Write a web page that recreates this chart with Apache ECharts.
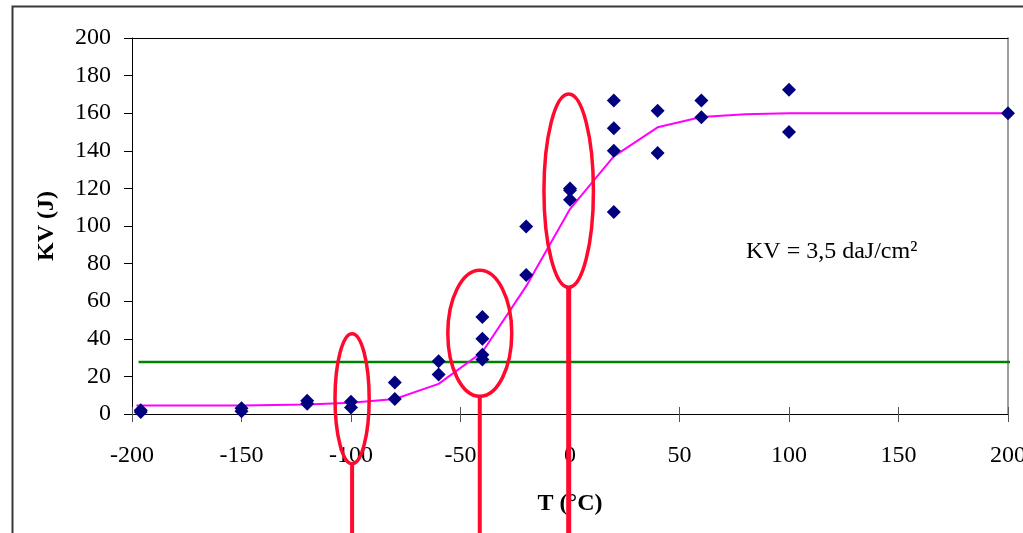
<!DOCTYPE html>
<html>
<head>
<meta charset="utf-8">
<script src="https://cdn.jsdelivr.net/npm/echarts@6/dist/echarts.min.js"></script>
<style>html,body{margin:0;padding:0;background:#fff;}#c{width:1023px;height:533px;}</style>
</head>
<body>
<div id="c"></div>
<script>
// Measured points: [T (°C), KV (J)]
var measuredT  = [-196,-196,-150,-150,-120,-120,-100,-100,-80,-80,-60,-60,-40,-40,-40,-40,-20,-20,0,0,0,20,20,20,20,40,40,60,60,100,100,200];
var measuredKV = [1,2,1.5,3,5.5,7,6.5,3.5,16.8,8,28,21,51.6,40,31.5,29,99.8,74,120,119,114,166.8,152,140,107.4,161.3,138.8,166.8,157.8,172.5,150,160];
// Fitted transition curve
var curveT  = [-198,-180,-160,-150,-120,-100,-80,-60,-40,-20,0,20,40,60,80,100,200,203];
var curveKV = [4.5,4.5,4.5,4.5,5,6,8,16,33,68,109,137,152.5,158,159.5,160,160,160];
// Criterion KV = 3,5 daJ/cm² (horizontal level)
var criterionT  = [-197,204];
var criterionKV = [27.6,27.6];
// Highlight ellipses: centre T, centre KV, half-width (°C), half-height (J), stem width
var ellipseCT  = [-99.5,-41.2,-0.6];
var ellipseCKV = [8.1,42.9,118.8];
var ellipseRT  = [7.8,14.6,11.3];
var ellipseRKV = [34.6,33.5,51.4];
var ellipseStem = [4,4,5];
// Axis ticks
var xTicks = {min:-200, max:200, interval:50};
var yTicks = {min:0, max:200, interval:20};

function zip(a,b){ return a.map(function(v,i){ return [v,b[i]]; }); }
var ellipseData = ellipseCT.map(function(v,i){ return [v, ellipseCKV[i], ellipseRT[i], ellipseRKV[i], ellipseStem[i]]; });

var FONT = 'Liberation Serif';
var RED = '#ff0a2e';
var chart = echarts.init(document.getElementById('c'), null, {renderer:'canvas'});
chart.setOption({
  animation:false,
  backgroundColor:'#fff',
  grid:{left:132, top:38, right:15, bottom:119, containLabel:false, outerBoundsMode:'none'},
  xAxis:[
    {type:'value', position:'bottom', min:xTicks.min, max:xTicks.max, interval:xTicks.interval,
     name:'T (°C)', nameLocation:'middle', nameGap:78,
     nameTextStyle:{fontFamily:FONT, fontWeight:'bold', fontSize:24, color:'#000'},
     axisLine:{show:true, onZero:false, lineStyle:{color:'#000', width:1}},
     axisTick:{show:true, inside:false, length:8, lineStyle:{color:'#555', width:1}},
     axisLabel:{fontFamily:FONT, fontSize:24, color:'#000', margin:30},
     splitLine:{show:false}},
    {type:'value', position:'bottom', min:xTicks.min, max:xTicks.max, interval:xTicks.interval,
     axisLine:{show:false, onZero:false}, axisTick:{show:true, inside:true, length:7, lineStyle:{color:'#555', width:1}},
     axisLabel:{show:false}, splitLine:{show:false}},
    {type:'value', position:'top', min:xTicks.min, max:xTicks.max,
     axisLine:{show:true, onZero:false, lineStyle:{color:'#000', width:1}}, axisTick:{show:false},
     axisLabel:{show:false}, splitLine:{show:false}}
  ],
  yAxis:[
    {type:'value', position:'left', min:yTicks.min, max:yTicks.max, interval:yTicks.interval,
     name:'KV (J)', nameLocation:'middle', nameGap:73, nameRotate:90,
     nameTextStyle:{fontFamily:FONT, fontWeight:'bold', fontSize:24, color:'#000'},
     axisLine:{show:true, onZero:false, lineStyle:{color:'#000', width:1}},
     axisTick:{show:true, inside:false, length:8, lineStyle:{color:'#000', width:1}},
     axisLabel:{fontFamily:FONT, fontSize:24, color:'#000', margin:21},
     splitLine:{show:false}},
    {type:'value', position:'right', min:yTicks.min, max:yTicks.max,
     axisLine:{show:true, onZero:false, lineStyle:{color:'#808080', width:1.5}}, axisTick:{show:false},
     axisLabel:{show:false}, splitLine:{show:false}}
  ],
  series:[
    {type:'line', name:'criterion', data:zip(criterionT, criterionKV), showSymbol:false, symbol:'none',
     clip:false, lineStyle:{color:'#008000', width:2.5}, z:2},
    {type:'line', name:'curve', data:zip(curveT, curveKV), showSymbol:false, symbol:'none',
     clip:false, lineStyle:{color:'#ff00ff', width:2}, z:3},
    {type:'scatter', name:'KV', data:zip(measuredT, measuredKV), symbol:'diamond', symbolSize:14,
     clip:false, itemStyle:{color:'#000080', opacity:1}, z:4},
    {type:'custom', name:'zones', data:ellipseData, clip:false, z:5,
     encode:{x:0, y:1},
     renderItem:function(params, api){
       var c = api.coord([api.value(0), api.value(1)]);
       var s = api.size([api.value(2), api.value(3)]);
       var lw = api.value(4);
       return {type:'group', children:[
         {type:'ellipse', shape:{cx:c[0], cy:c[1], rx:s[0], ry:s[1]},
          style:{fill:null, stroke:RED, lineWidth:3.5}},
         {type:'line', shape:{x1:c[0], y1:c[1]+s[1], x2:c[0], y2:c[1]+s[1]+400},
          style:{stroke:RED, lineWidth:lw}}
       ]};
     }}
  ],
  graphic:[
    {type:'rect', left:10, top:4, shape:{width:1100, height:600},
     style:{fill:null, stroke:'#383838', lineWidth:2}, z:-1, silent:true},
    {type:'text', left:746, top:240, style:{text:'KV = 3,5 daJ/cm²', font:'24px "Liberation Serif"', fill:'#000'}, z:10}
  ]
});
</script>
</body>
</html>
